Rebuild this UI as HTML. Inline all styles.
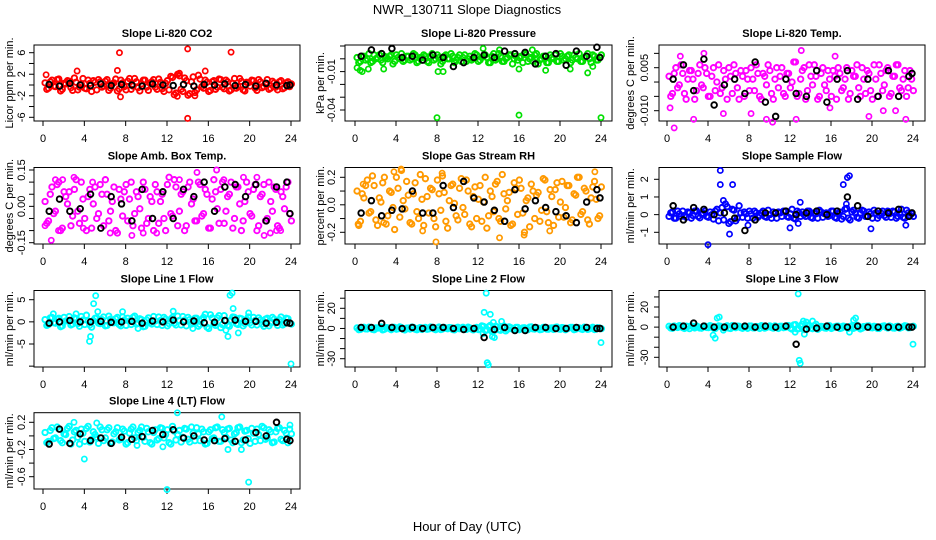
<!DOCTYPE html>
<html><head><meta charset="utf-8"><style>
html,body{margin:0;padding:0;background:#fff;}
svg{display:block;font-family:"Liberation Sans",Arial,sans-serif;}
</style></head><body>
<svg id="chart" width="936" height="540" viewBox="0 0 936 540">
<text x="467" y="14" font-size="13" text-anchor="middle">NWR_130711  Slope Diagnostics</text>
<text x="467" y="531" font-size="13" text-anchor="middle">Hour of Day (UTC)</text>
</svg>
<script>
// ---- data ----
const blackHours = [0.6,1.6,2.6,3.6,4.6,5.6,6.6,7.6,8.6,9.6,10.6,11.6,12.6,13.6,14.6,15.6,16.6,17.6,18.6,19.6,20.6,21.6,22.6,23.6,23.9];
const p1Band = [0.4,-0.6,0.9,-0.3,1.1,-0.8,0.2,0.7,-1,0.5,-0.4,1.2,-0.7,0.3,0.8,-0.9,0.6,-0.2,1,-0.6,0.4,-1.1,0.9,-0.3,0.7,-0.8,1.2,-0.5,0.2,0.9,-1,0.6,-0.4,1.1,-0.7,0.3,-0.9,1.4,-1.5,1.7,-1.2,0.8,-1.6,1.5,-0.9,1.1,-0.6,0.5,-1,0.8,-0.4,1,-0.7,0.6,-0.9,1.2,-0.3,0.7,-1.1,0.4,0.9,-0.6,1,-0.5,0.3,-0.8,0.7,-0.4,0.6,-0.7,0.4,-0.3];
const p1BandB = [-0.8,0.6,-0.2,1,-1.1,0.3,0.8,-0.5,1.3,-0.9,0.2,-0.6,0.9,-1.2,0.5,1,-0.4,0.7,-1,0.2,1.1,-0.7,0.4,-0.9,1.2,-0.2,0.6,-1.1,0.9,-0.4,0.3,1,-0.8,0.5,-1.2,0.8,1.6,-1.8,2,-0.8,1.3,-1.9,0.6,-1.4,1.8,-0.3,0.9,-1.2,0.6,-0.8,1.1,-0.4,0.9,-1.1,0.3,-0.6,1.2,-0.9,0.5,-0.2,0.8,-1,0.6,-0.3,1,-0.6,0.4,-0.9,0.8,-0.5,0.6,0.2];
const p1OutX = [0.3,3.3,7.2,7.4,7.5,13,13.2,14,14,14.7,15.7,18.2];
const p1OutY = [1.9,2.6,2.7,6,-2.2,-2.1,2.2,6.7,-6.2,-2,2.6,6.1];
const p1Black = [0.1,-0.2,0.3,0,-0.1,0.2,-0.1,0.1,0,-0.2,0.2,0,-0.1,0.1,-0.2,0.1,0,0.2,-0.1,0.1,-0.2,0.3,0,-0.1,0];

const p2Band = [0.001,-0.002,0.002,0,-0.003,0.003,0.001,-0.001,0.002,0,0.003,-0.002,0.001,0.004,-0.001,0.002,0,0.003,-0.002,0.001,0.002,-0.003,0.004,0,0.001,-0.002,0.003,0,0.002,-0.001,0.003,0.001,-0.002,0.002,0,0.003,-0.001,0.002,0.001,-0.003,0.004,0,0.002,-0.002,0.001,0.003,0,-0.001,0.002,0.004,-0.002,0.001,0.003,-0.004,0,0.002,-0.003,0.001,0.003,-0.002,0.002,0,0.003,-0.001,0.001,0.004,-0.002,0.002,0,0.003,-0.001,0.001];
const p2BandB = [-0.003,0.002,-0.001,0.004,-0.002,0,0.003,-0.003,0.001,0.002,-0.004,0.003,0,-0.002,0.002,-0.001,0.004,-0.003,0.001,0.003,-0.002,0.002,-0.001,0.003,-0.004,0.002,0,0.004,-0.003,0.001,-0.002,0.003,0,-0.001,0.004,-0.002,0.001,0.003,-0.003,0.002,-0.001,0.004,-0.002,0,0.003,-0.004,0.002,0.001,-0.003,0.003,0,-0.002,0.004,-0.001,0.002,-0.003,0.003,0,-0.002,0.004,-0.001,0.002,-0.003,0.003,0,-0.002,0.001,0.004,-0.003,0.002,-0.001,0.003];
const p2OutX = [0.2,0.5,0.7,1.3,2.8,8,8.1,8.6,16,16,18.6,21,22.7,24,12.5,14.1,17.3,23.2];
const p2OutY = [-0.007,-0.009,-0.010,-0.008,-0.008,-0.046,-0.010,-0.010,-0.044,-0.008,-0.009,-0.008,-0.011,-0.046,0.008,0.007,0.007,-0.006];
const p2Black = [0.002,0.007,0.004,0.008,0.001,0.002,-0.001,0.003,0.001,-0.006,-0.003,0.001,0.003,0.001,0.006,0.004,0.005,-0.004,0.002,0.004,-0.005,0.006,0.002,0.009,0.001];

const p3Band = [0.002,-0.004,0.005,-0.001,0.003,-0.006,0.004,0.001,-0.003,0.006,-0.002,0.003,-0.005,0.005,0,-0.004,0.004,-0.006,0.002,0.006,-0.002,0.004,-0.005,0.001,0.005,-0.003,0.003,-0.006,0.002,0.006,-0.004,0.001,-0.002,0.005,-0.005,0.003,0,0.007,-0.004,0.004,-0.006,0.006,-0.001,0.002,-0.005,0.005,-0.003,0.001,0.004,-0.006,0.003,-0.002,0.005,-0.004,0.002,0.006,-0.005,0.001,0.004,-0.003,0.006,-0.005,0.003,-0.001,0.005,-0.004,0.002,0.006,-0.003,0.004,-0.002,0.001];
const p3BandB = [-0.005,0.003,-0.002,0.006,-0.004,0.001,0.004,-0.006,0.003,-0.001,0.005,-0.005,0.002,-0.003,0.006,-0.002,0.001,0.005,-0.004,0.003,-0.006,0.002,0.004,-0.003,0.001,0.006,-0.005,0.003,-0.001,0.004,-0.006,0.005,0.002,-0.004,0.003,-0.002,0.007,-0.005,0.001,0.005,-0.003,0.002,0.006,-0.006,0.003,-0.001,0.004,-0.005,0.002,0.005,-0.003,0.001,-0.006,0.004,0.002,-0.002,0.005,-0.004,0.003,-0.006,0.001,0.006,-0.003,0.004,-0.005,0.002,0.006,-0.002,0.001,-0.005,0.004,-0.003];
const p3OutX = [0.3,0.7,2.6,3.6,5.5,8.2,9.7,10.3,12.6,13.1,16.4,19.7,21.1,23.3,1.3,15.9,22.3];
const p3OutY = [-0.009,-0.016,-0.013,0.010,-0.011,-0.011,-0.013,-0.014,-0.013,0.011,0.009,-0.012,-0.010,-0.013,0.009,-0.009,-0.010];
const p3Black = [0.001,0.006,-0.003,0.008,-0.008,-0.001,0.001,-0.004,0.007,-0.007,-0.012,0.001,-0.004,-0.005,0.004,-0.007,0.001,0.004,-0.006,0.001,-0.005,0.004,-0.005,0.002,0.003];

const p4Band = [0.02,-0.06,0.08,-0.02,0.1,-0.09,0.04,0.06,-0.04,0.11,-0.07,0.03,-0.1,0.07,0.01,-0.05,0.09,-0.08,0.05,-0.02,0.08,-0.11,0.03,0.06,-0.06,0.1,-0.03,0.04,-0.09,0.07,-0.05,0.02,0.09,-0.07,0.05,-0.1,0.12,-0.04,0.08,-0.02,0.06,-0.08,0.1,0.03,-0.06,0.09,-0.03,0.05,-0.09,0.11,-0.01,0.07,-0.07,0.04,0.1,-0.05,0.08,-0.1,0.02,0.06,-0.04,0.09,-0.08,0.05,-0.06,0.1,-0.02,0.07,-0.09,0.04,0.08,-0.03];
const p4BandB = [-0.07,0.05,-0.03,0.09,-0.1,0.06,0.01,-0.08,0.07,-0.02,0.1,-0.05,0.04,-0.09,0.08,-0.03,0.05,0.11,-0.06,0.02,-0.1,0.07,-0.04,0.09,0.03,-0.08,0.06,-0.01,0.1,-0.07,0.04,-0.1,0.06,0.02,-0.05,0.09,-0.03,0.11,-0.08,0.05,-0.1,0.08,0.01,-0.06,0.1,-0.04,0.07,-0.09,0.03,0.06,-0.07,0.1,-0.02,0.05,-0.09,0.08,0.01,-0.06,0.1,-0.03,0.07,-0.1,0.04,0.09,-0.05,0.02,0.08,-0.08,0.06,-0.01,0.1,-0.06];
const p4OutX = [0.2,0.8,1.5,1.9,3,3.9,4.8,6.5,8.6,9.7,11,13.2,14.9,16.8,17.5,19.4,20.7,21.4,22,22.6,23,1.2];
const p4OutY = [-0.08,-0.14,-0.1,0.11,0.12,-0.09,0.1,-0.11,-0.12,-0.11,-0.11,0.11,0.14,0.15,0.11,0.12,0.12,-0.12,-0.11,-0.10,-0.10,0.11];
const p4Black = [-0.02,0.03,-0.02,-0.01,0.05,-0.09,0.04,0.01,-0.06,0.07,-0.05,0.06,-0.05,0.07,0.04,0.1,-0.02,0.08,0.09,0.04,0.09,-0.06,0.08,0.1,-0.03];

const p5Band = [0.1,-0.12,0.05,0.18,-0.05,0.14,-0.15,0.02,0.2,-0.08,0.09,-0.18,0.12,0.25,-0.03,0.07,-0.14,0.16,-0.1,0.04,0.19,-0.06,0.11,-0.16,0.08,0.21,-0.12,0.03,0.15,-0.08,0.12,-0.02,0.18,-0.14,0.06,-0.1,0.14,0.02,-0.17,0.1,-0.05,0.17,-0.12,0.08,0.03,-0.15,0.16,-0.07,0.12,-0.2,0.05,0.15,-0.1,0.09,-0.04,0.18,-0.13,0.06,0.11,-0.09,0.17,-0.02,0.14,-0.11,0.07,0.2,-0.05,0.1,-0.14,0.13,0.04,-0.08];
const p5BandB = [-0.15,0.08,0.14,-0.06,0.21,-0.11,0.05,0.16,-0.14,0.1,-0.02,0.2,-0.09,0.03,0.17,-0.13,0.08,-0.05,0.22,-0.15,0.06,0.12,-0.1,0.18,-0.04,0.09,-0.17,0.14,0.01,-0.11,0.19,-0.07,0.1,-0.16,0.13,0.04,-0.12,0.2,-0.08,0.06,0.15,-0.1,0.22,-0.03,0.09,-0.14,0.12,0.18,-0.06,0.03,-0.16,0.1,0.07,-0.12,0.19,-0.05,0.11,-0.15,0.16,0.02,-0.09,0.14,-0.13,0.08,0.2,-0.07,0.12,-0.11,0.05,0.17,-0.1,0.13];
const p5OutX = [0.3,0.8,4.5,6.6,8.5,3.8,16.5,19,23.4,2.8,14.1,7.9];
const p5OutY = [-0.14,0.15,0.26,-0.19,0.23,0.24,-0.22,-0.19,0.24,-0.13,-0.24,-0.27];
const p5Black = [-0.06,0.03,-0.08,-0.04,-0.03,0.1,-0.06,-0.06,0.14,-0.02,0.17,0.05,0.02,-0.04,-0.12,0.11,-0.03,0.03,-0.02,-0.05,-0.08,-0.13,0.02,0.11,0.05];

const p6Band = [-0.1,0.15,-0.2,0.05,0.2,-0.15,0.1,-0.05,0.22,-0.18,0.08,-0.1,0.15,-0.25,0.3,0.1,-0.3,0.45,-0.4,0.25,-0.2,0.1,0.15,-0.2,0.05,0.2,-0.15,0.1,-0.1,0.25,-0.2,0.05,0.15,-0.1,0.2,-0.15,0.3,-0.25,0.1,0.15,-0.1,0.2,-0.2,0.05,0.25,-0.15,0.1,-0.05,0.2,-0.2,0.15,-0.1,0.35,-0.3,0.25,-0.15,0.1,0.2,-0.1,0.05,0.25,-0.2,0.1,-0.05,0.2,-0.15,0.15,-0.1,0.3,-0.2,0.1,0.05];
const p6BandB = [0.1,-0.2,0.2,-0.1,-0.05,0.15,-0.2,0.2,-0.1,0.05,0.2,-0.15,0,0.2,-0.35,0.4,0.6,-0.5,0.3,-0.35,0.5,-0.15,0.05,0.2,-0.2,0.1,-0.05,0.2,-0.15,0,0.15,-0.2,0.1,0.2,-0.1,0.05,-0.2,0.2,-0.1,0,0.2,-0.15,0.1,-0.2,0.15,0.05,-0.1,0.2,-0.15,0.05,-0.25,0.3,-0.2,0.15,0.1,-0.2,0.25,-0.1,0.15,-0.2,0.1,-0.05,0.2,-0.15,0.05,0.2,-0.2,0.1,-0.15,0.25,-0.05,-0.1];
const p6OutX = [4,5.2,5.2,6.4,6.1,17.2,17.6,17.8,13,12.8,12,19.9,23.3,7.9,17.5,5.5];
const p6OutY = [-1.7,2.5,1.7,1.7,-1.1,1.7,2.1,2.2,0.7,-0.5,-0.75,-0.8,-0.6,-0.6,0.6,0.8];
const p6Black = [0.5,-0.3,0.4,0.3,0,0.1,-0.2,-0.9,-0.3,0.1,0.1,0.2,0,0.1,0.2,0,0.2,1,0.5,-0.1,0.2,0.1,0.3,-0.1,0.1];

const p7Band = [0.5,-0.6,1,-0.3,0.8,-0.9,0.2,1.2,-0.5,0.7,-1,0.4,1.5,-0.7,0.3,0.9,-0.4,1.1,-0.8,0.6,-0.2,1,-0.9,0.4,0.8,-0.6,1.3,-0.3,0.5,-1,0.9,-0.5,0.2,1.1,-0.8,0.6,-0.4,1,-0.7,0.3,1.2,-0.9,0.5,-0.3,0.8,-0.6,1,-1.2,1.6,-0.5,0.9,-1.3,1.4,-0.8,0.4,1,-0.6,0.7,-0.4,1.1,-0.7,0.3,0.9,-0.5,0.6,-0.9,1,-0.2,0.5,-0.7,0.8,-0.3];
const p7BandB = [-0.8,0.9,-0.2,0.6,-1.1,1,0.3,-0.7,0.9,-0.4,1.2,-0.6,0.2,-1.2,0.8,-0.3,0.5,-0.9,1.3,-0.2,0.7,-0.6,1.1,-0.8,0.2,1,-0.5,0.7,-1.1,0.4,-0.2,1.2,-0.6,0.3,1,-0.9,0.6,-0.3,1.3,-0.7,0.4,1,-0.5,0.8,-1,0.5,1.7,-1.5,0.9,-0.8,1.4,-0.6,0.3,-1,1.1,-0.4,0.8,-0.9,0.5,-0.2,1,-0.7,0.4,-1,0.8,-0.3,0.6,-0.8,1.1,-0.4,0.7,-0.5];
const p7OutX = [4.5,4.6,4.9,5.1,5.3,1,3.2,7.7,9.2,12.6,17.7,17.9,18.1,18.3,18.4,18.9,19.9,24,14.5];
const p7OutY = [-4.4,-3.3,4.1,5.9,2.3,1.8,1.8,2.3,-1.5,2.4,-1.9,-3.3,6,6.5,3,-2.5,2,-9.5,-1.5];
const p7Black = [-0.3,0,0.3,0,0,0.1,-0.1,0,0.1,-0.3,0.2,0,0.4,0,0.2,-0.2,-0.1,0.3,0.4,0.1,0.1,-0.3,-0.1,-0.2,-0.3];

const p8Band = [0.5,-1,1.2,-0.5,0.8,-1.3,0.3,1.5,-0.8,0.6,-1.2,1,-0.3,0.9,-1.5,0.4,1.3,-0.7,0.2,-1,1.1,-0.4,0.7,-1.2,1.4,-0.6,0.3,0.9,-1.1,0.5,-0.3,1.2,-0.9,0.6,-1.4,1,-0.5,2,-1.6,3,-2.5,1.5,-1.8,2.4,-1,0.8,-1.3,1.1,-0.4,0.7,-1.2,1.5,-0.6,0.3,-1,1.2,-0.8,0.5,1,-0.5,0.9,-1.3,0.4,1.1,-0.7,0.6,-1,0.8,-0.3,1.2,-0.6,0.4];
const p8BandB = [-1.2,0.7,-0.4,1.3,-0.9,0.5,1,-1.4,0.8,-0.2,1.2,-0.7,1.5,-1,0.3,-0.6,1.1,-1.3,0.9,0.2,-0.8,1.4,-0.5,0.6,-1.1,1,-0.3,0.8,-1.4,1.2,0.4,-0.9,1.3,-0.6,0.2,-1.1,2.5,-2,1.8,-3,2.2,-1.2,0.9,-2.4,1.6,-0.7,1,-1.2,0.5,-0.9,1.3,-0.4,0.8,-1.2,1.1,-0.6,0.3,-1,1.4,-0.8,0.6,-0.3,1.1,-1.2,0.7,-0.5,1.3,-0.9,0.4,-1.1,0.8,-0.2];
const p8OutX = [12.8,12.6,13.2,12.5,12.9,13,13.5,13.4,14.3,13.6,24];
const p8OutY = [35,16,14,-5,-34,-36,6,-8,7,-9,-14];
const p8Black = [1,1,5,1,0,1,0,1,1,0,-1,0,-9,-1,1,-2,-2,1,1,0,0,1,1,0,0];

const p9Band = [0.8,-1.2,0.5,1.4,-0.6,1,-1.5,0.3,1.2,-0.9,0.6,-0.3,1.5,-1.1,0.4,0.9,-0.7,1.3,-1.4,0.2,1,-0.5,0.7,-1.2,1.1,-0.8,0.3,1.4,-1,0.6,-0.4,1.2,-1.3,0.8,-0.2,1.5,-2,2.5,-1.5,3,-2.2,1.2,-1.6,2.8,-0.9,0.5,-1.1,1.3,-0.6,0.9,-1.4,1,-0.3,0.7,-1.2,2,-1.8,0.6,1.1,-0.5,0.8,-1.3,0.4,1.2,-0.9,0.5,-1,0.9,-0.4,1.3,-0.7,0.3];
const p9BandB = [-0.9,1.1,-0.4,0.8,-1.3,0.6,1.3,-0.8,0.2,-1.1,1,-0.5,0.7,-1.4,1.2,-0.2,0.5,-1,1.4,-0.6,0.9,-1.2,0.3,1.1,-0.7,0.6,-1.3,0.9,-0.3,1.2,-1,0.4,0.8,-0.6,1.3,-1.1,2.2,-1.8,0.9,-2.5,2,-1,1.5,-2.2,0.7,-0.8,1.2,-1.3,0.4,1,-0.9,0.6,-1.2,1.3,-0.4,0.8,-1,0.3,1.2,-0.7,0.5,-1.3,0.9,-0.2,1.1,-0.8,0.6,-1.1,0.4,1,-0.6,0.8];
const p9OutX = [4.5,4.7,4.9,5.1,12.8,13.3,12.5,12.9,13,13.4,14.2,13.6,18.2,18.4,17.8,24,5.5];
const p9OutY = [-8,-11,9,10,33,6,-5,-33,-36,-7,6,5,7,9,-5,-17,-3];
const p9Black = [0,1,4,1,0,0,1,1,0,1,0,1,-17,-2,-1,1,0,0,1,0,0,0,0,0,0];

const p10Band = [0.05,-0.08,0.12,-0.03,0.1,-0.1,0.02,0.14,-0.06,0.08,-0.12,0.04,0.11,-0.09,0.06,-0.02,0.13,-0.07,0.09,-0.11,0.03,0.12,-0.05,0.07,-0.1,0.1,-0.03,0.05,0.13,-0.08,0.06,-0.12,0.09,-0.04,0.11,0.02,-0.1,0.14,-0.06,0.08,-0.02,0.1,-0.09,0.04,0.12,-0.07,0.06,-0.11,0.09,-0.03,0.13,-0.08,0.05,0.1,-0.06,0.03,0.12,-0.1,0.07,-0.04,0.11,-0.08,0.02,0.14,-0.05,0.09,-0.1,0.06,0.12,-0.07,0.04,0.1];
const p10BandB = [-0.1,0.08,-0.04,0.13,-0.07,0.03,0.11,-0.12,0.06,-0.02,0.1,-0.08,0.14,-0.05,0.02,-0.11,0.09,-0.03,0.12,-0.09,0.06,-0.06,0.1,-0.12,0.04,0.13,-0.07,0.08,-0.02,0.11,-0.1,0.05,-0.06,0.12,-0.03,0.09,-0.12,0.07,0.02,-0.09,0.11,-0.05,0.13,-0.07,0.03,0.1,-0.12,0.06,-0.04,0.12,-0.08,0.09,-0.02,0.11,-0.1,0.05,0.13,-0.06,0.08,-0.11,0.04,0.1,-0.07,0.12,-0.03,0.06,-0.09,0.11,-0.05,0.08,-0.1,0.03];
const p10OutX = [4,12,13,19.9,19.2,3,5.2,11.6,17.3,23.9,17.9,9.1];
const p10OutY = [-0.34,-0.79,0.34,-0.68,-0.2,0.2,0.19,-0.16,0.28,0.16,-0.2,-0.14];
const p10Black = [-0.12,0.1,-0.11,0.03,-0.07,-0.03,-0.11,-0.02,-0.05,-0.01,0.08,0.02,0.09,-0.03,0,-0.06,-0.07,-0.04,-0.08,-0.06,0.05,0,0.2,-0.05,-0.07];

const xTicks = [0,4,8,12,16,20,24];
const bandHours = p1Band.map((_, i) => 0.2 + i / 3);
const bandHoursB = p1BandB.map((_, i) => 0.37 + i / 3);

// ---- layout ----
const NS = "http://www.w3.org/2000/svg";
const svg = document.getElementById("chart");
const cols = [{l:34,r:300,x0:43,x24:291,yl:9,tl:25},{l:345,r:612,x0:355,x24:601,yl:320,tl:335},{l:659,r:925,x0:667,x24:913,yl:630,tl:648}];
const rows = [{t:45,b:121},{t:167.5,b:244},{t:290.5,b:367},{t:412.7,b:489}];
const panels = [
 {name:"co2",title:"Slope Li-820 CO2",ylab:"Licor ppm per min.",c:0,r:0,color:"#ff0000",band:p1Band,bandB:p1BandB,ox:p1OutX,oy:p1OutY,bk:p1Black,ref:[6,52.7,-6,117.3],ticks:[-6,-4,-2,0,2,4,6],labels:["6","2","-2","-6"],labVals:[6,2,-2,-6]},
 {name:"pressure",title:"Slope Li-820 Pressure",ylab:"kPa per min.",c:1,r:0,color:"#00e000",band:p2Band,bandB:p2BandB,ox:p2OutX,oy:p2OutY,bk:p2Black,ref:[0.01,46,-0.04,110],ticks:[0.01,0,-0.01,-0.02,-0.03,-0.04],labels:["-0.01","-0.04"],labVals:[-0.01,-0.04]},
 {name:"li820-temp",title:"Slope Li-820 Temp.",ylab:"degrees C per min.",c:2,r:0,color:"#ff00ff",band:p3Band,bandB:p3BandB,ox:p3OutX,oy:p3OutY,bk:p3Black,ref:[0.005,67.7,-0.010,110.7],ticks:[0.01,0.005,0,-0.005,-0.01],labels:["0.005","-0.010"],labVals:[0.005,-0.01]},
 {name:"amb-box-temp",title:"Slope Amb. Box Temp.",ylab:"degrees C per min.",c:0,r:1,color:"#ff00ff",band:p4Band,bandB:p4BandB,ox:p4OutX,oy:p4OutY,bk:p4Black,ref:[0.15,170,-0.15,242.7],ticks:[0.15,0.1,0.05,0,-0.05,-0.1,-0.15],labels:["0.15","0.00","-0.15"],labVals:[0.15,0,-0.15]},
 {name:"gas-stream-rh",title:"Slope Gas Stream RH",ylab:"percent per min.",c:1,r:1,color:"#ff9900",band:p5Band,bandB:p5BandB,ox:p5OutX,oy:p5OutY,bk:p5Black,ref:[0.2,177.3,-0.2,232.3],ticks:[0.2,0.1,0,-0.1,-0.2],labels:["0.2","0.0","-0.2"],labVals:[0.2,0,-0.2]},
 {name:"sample-flow",title:"Slope Sample Flow",ylab:"ml/min per min.",c:2,r:1,color:"#0000ff",band:p6Band,bandB:p6BandB,ox:p6OutX,oy:p6OutY,bk:p6Black,ref:[2,179.3,-1,232.3],ticks:[2,1,0,-1],labels:["2","1","0","-1"],labVals:[2,1,0,-1]},
 {name:"line1-flow",title:"Slope Line 1 Flow",ylab:"ml/min per min.",c:0,r:2,color:"#00ffff",band:p7Band,bandB:p7BandB,ox:p7OutX,oy:p7OutY,bk:p7Black,ref:[5,299.7,-5,344],ticks:[5,0,-5,-10],labels:["5","0","-5"],labVals:[5,0,-5]},
 {name:"line2-flow",title:"Slope Line 2 Flow",ylab:"ml/min per min.",c:1,r:2,color:"#00ffff",band:p8Band,bandB:p8BandB,ox:p8OutX,oy:p8OutY,bk:p8Black,ref:[20,308.3,-30,358.7],ticks:[30,20,10,0,-10,-20,-30],labels:["20","0","-30"],labVals:[20,0,-30]},
 {name:"line3-flow",title:"Slope Line 3 Flow",ylab:"ml/min per min.",c:2,r:2,color:"#00ffff",band:p9Band,bandB:p9BandB,ox:p9OutX,oy:p9OutY,bk:p9Black,ref:[20,307,-30,357.3],ticks:[30,20,10,0,-10,-20,-30],labels:["20","0","-30"],labVals:[20,0,-30]},
 {name:"line4-flow",title:"Slope Line 4 (LT) Flow",ylab:"ml/min per min.",c:0,r:3,color:"#00ffff",band:p10Band,bandB:p10BandB,ox:p10OutX,oy:p10OutY,bk:p10Black,ref:[0.2,422.3,-0.6,476.7],ticks:[0.2,0,-0.2,-0.4,-0.6],labels:["0.2","-0.2","-0.6"],labVals:[0.2,-0.2,-0.6]}
];

function mk(tag, attrs, parent){
  const e = document.createElementNS(NS, tag);
  for (const k in attrs) e.setAttribute(k, attrs[k]);
  (parent||svg).appendChild(e);
  return e;
}

panels.forEach(p => {
  const C = cols[p.c], R = rows[p.r];
  const xs = h => C.x0 + (h / 24) * (C.x24 - C.x0);
  const [v1, py1, v2, py2] = p.ref;
  const ys = v => py1 + (v - v1) * (py2 - py1) / (v2 - v1);
  const g = mk("g", {});
  
  

  const t = mk("text", {x:(C.l+C.r)/2, y:(R.t-12+4), "font-size":11, "font-weight":"bold", "text-anchor":"middle"}, g);
  t.textContent = p.title;
  
  

  const yl = mk("text", {x:C.yl, y:(R.t+R.b)/2, "font-size":11, "text-anchor":"middle", transform:`rotate(-90 ${C.yl} ${(R.t+R.b)/2})`, dy:"4"}, g);
  yl.textContent = p.ylab;
  
  

  const box = mk("rect", {x:C.l, y:R.t, width:C.r-C.l, height:R.b-R.t, fill:"none", stroke:"#000", "stroke-width":1}, g);
  
  

  xTicks.forEach(h => {
    const x = xs(h);
    const tk = mk("line", {x1:x, x2:x, y1:R.b, y2:R.b+5, stroke:"#000"}, g);
    
    
    const tl = mk("text", {x:x, y:R.b+21, "font-size":11, "text-anchor":"middle"}, g);
    tl.textContent = String(h);
    
    
  });
  p.ticks.forEach(v => {
    const y = ys(v);
    const tk = mk("line", {x1:C.l-5, x2:C.l, y1:y, y2:y, stroke:"#000"}, g);
    
    
  });
  p.labels.forEach((lab, i) => {
    const y = ys(p.labVals[i]);
    const tl = mk("text", {x:C.tl, y:y, "font-size":11, "text-anchor":"middle", transform:`rotate(-90 ${C.tl} ${y})`}, g);
    tl.textContent = lab;
    
    
  });

  p.band.forEach((v, i) => {
    const pt = mk("circle", {cx:xs(bandHours[i]), cy:ys(v), r:2.7, fill:"none", stroke:p.color, "stroke-width":1.9}, g);
    
    
  });
  p.bandB.forEach((v, i) => {
    const pt = mk("circle", {cx:xs(bandHoursB[i]), cy:ys(v), r:2.7, fill:"none", stroke:p.color, "stroke-width":1.9}, g);
    
    
  });
  p.ox.forEach((h, i) => {
    const pt = mk("circle", {cx:xs(h), cy:ys(p.oy[i]), r:2.6, fill:"none", stroke:p.color, "stroke-width":1.7}, g);
    
    
  });
  p.bk.forEach((v, i) => {
    const pt = mk("circle", {cx:xs(blackHours[i]), cy:ys(v), r:2.8, fill:"none", stroke:"#000", "stroke-width":1.9}, g);
    
    
  });
});
</script>
</body></html>
